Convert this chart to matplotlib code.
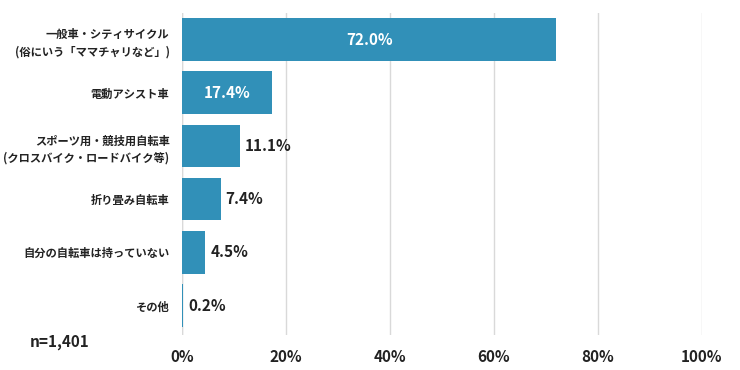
import matplotlib
matplotlib.use("Agg")
import matplotlib.pyplot as plt

plt.rcParams['font.family'] = ['Noto Sans CJK JP', 'DejaVu Sans']

categories = ["一般車・シティサイクル\n(俗にいう「ママチャリなど」)", "電動アシスト車",
              "スポーツ用・競技用自転車\n(クロスバイク・ロードバイク等)", "折り畳み自転車",
              "自分の自転車は持っていない", "その他"]
values = [72.0, 17.4, 11.1, 7.4, 4.5, 0.2]
inside = [True, True, False, False, False, False]
xticks = [0, 20, 40, 60, 80, 100]
xticklabels = ["0%", "20%", "40%", "60%", "80%", "100%"]
note = "n=1,401"

color = "#3190b8"
fig = plt.figure(figsize=(7.4, 3.7), dpi=100)
ax = fig.add_axes([0.246, 0.095, 0.7025, 0.87])
y = list(range(len(categories)))
bars = ax.barh(y, values, height=0.8, color=color, zorder=3)
ax.set_xlim(0, 100)
ax.set_ylim(len(categories) - 0.45, -0.5)
ax.set_xticks(xticks)
ax.set_xticklabels(xticklabels, fontsize=11, fontweight='bold', color='#222222')
ax.set_yticks(y)
ax.set_yticklabels(categories, fontsize=8.1, fontweight='bold', color='#222222', linespacing=1.4)
ax.tick_params(axis='both', length=0)
ax.tick_params(axis='x', pad=10)
ax.tick_params(axis='y', pad=9)
ax.grid(axis='x', color='#d9d9d9', linewidth=1, zorder=0)
for s in ax.spines.values():
    s.set_visible(False)
ax.axvline(0, color='#d9d9d9', linewidth=1, zorder=0)

for yi, v, ins in zip(y, values, inside):
    txt = f"{v:.1f}%"
    if ins:
        ax.text(v / 2, yi, txt, ha='center', va='center', color='white',
                fontsize=11, fontweight='bold', zorder=4)
    else:
        ax.text(v + 1.0, yi, txt, ha='left', va='center', color='#222222',
                fontsize=11, fontweight='bold', zorder=4)

fig.text(30 / 740, 1 - 342 / 370, note, ha='left', va='center', fontsize=11,
         fontweight='bold', color='#222222')
fig.savefig("out.png", dpi=100, facecolor='white')
